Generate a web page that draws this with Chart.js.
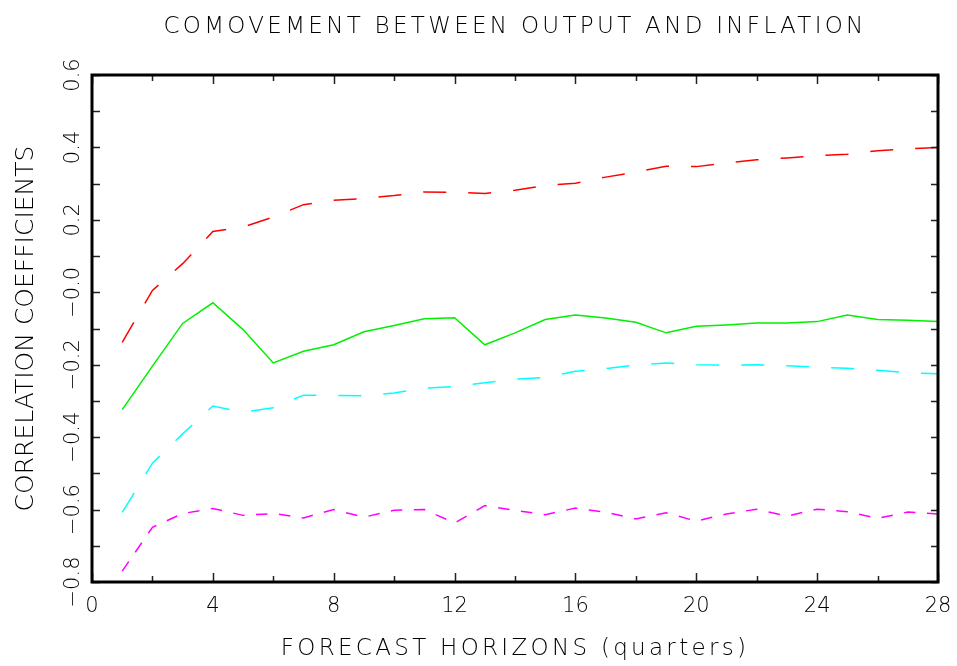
<!DOCTYPE html>
<html>
<head>
<meta charset="utf-8">
<script src="https://cdn.jsdelivr.net/npm/chart.js@4/dist/chart.umd.min.js"></script>
<style>
  html, body { margin: 0; padding: 0; background: #fff; }
  #wrap { width: 957px; height: 666px; }
</style>
</head>
<body>
<div id="wrap"><canvas id="chart" width="957" height="666"></canvas></div>
<script>
// forecast horizons (quarters)
var horizons = [1, 2, 3, 4, 5, 6, 7, 8, 9, 10, 11, 12, 13, 14,
                15, 16, 17, 18, 19, 20, 21, 22, 23, 24, 25, 26, 27, 28];

// point estimate (green, solid)
var corrMid = [-0.324, -0.204, -0.086, -0.029, -0.103, -0.195, -0.163, -0.145, -0.109, -0.092,
               -0.073, -0.070, -0.145, -0.112, -0.075, -0.063, -0.071, -0.083, -0.112, -0.094,
               -0.090, -0.085, -0.085, -0.081, -0.063, -0.075, -0.077, -0.081];

// upper band (red, long dash)
var corrUpper = [-0.138, 0.005, 0.079, 0.168, 0.180, 0.208, 0.242, 0.254, 0.259, 0.267,
                 0.277, 0.276, 0.273, 0.282, 0.295, 0.301, 0.318, 0.332, 0.348, 0.347,
                 0.357, 0.366, 0.371, 0.377, 0.381, 0.391, 0.396, 0.400];

// lower band (cyan, long dash)
var corrLower = [-0.608, -0.472, -0.391, -0.314, -0.331, -0.319, -0.284, -0.285, -0.286, -0.278,
                 -0.265, -0.260, -0.250, -0.240, -0.235, -0.218, -0.211, -0.201, -0.195, -0.200,
                 -0.201, -0.200, -0.203, -0.207, -0.210, -0.215, -0.222, -0.225];

// outer band (magenta, short dash)
var corrOuter = [-0.770, -0.649, -0.611, -0.597, -0.616, -0.611, -0.623, -0.600, -0.621, -0.602,
                 -0.600, -0.637, -0.589, -0.602, -0.614, -0.596, -0.607, -0.626, -0.609, -0.632,
                 -0.612, -0.599, -0.618, -0.599, -0.606, -0.624, -0.607, -0.612];

var titleText = 'COMOVEMENT BETWEEN OUTPUT AND INFLATION';
var xTitleText = 'FORECAST HORIZONS (quarters)';
var yTitleText = 'CORRELATION COEFFICIENTS';

var FONT = '"DejaVu Sans", "Liberation Sans", sans-serif';

function pts(values) {
    return horizons.map(function (h, i) { return {x: h, y: values[i]}; });
}

function line(label, values, color, dash) {
    return {
        label: label,
        data: pts(values),
        borderColor: color,
        borderWidth: 1.5,
        borderDash: dash,
        pointRadius: 0,
        tension: 0,
        fill: false
    };
}

// frame, inside tick marks and the titles
var framePlugin = {
    id: 'frame',
    afterDraw: function (chart) {
        var ctx = chart.ctx;
        var a = chart.chartArea;
        var xs = chart.scales.x, ys = chart.scales.y;

        ctx.save();
        ctx.strokeStyle = '#222';
        ctx.lineWidth = 1.5;
        ctx.beginPath();
        xs.ticks.forEach(function (t) {
            var px = Math.round(xs.getPixelForValue(t.value)) + 0.5;
            var len = (Math.round(t.value) % 4 === 0) ? 9 : 6;
            ctx.moveTo(px, a.bottom); ctx.lineTo(px, a.bottom - len);
            ctx.moveTo(px, a.top); ctx.lineTo(px, a.top + len);
        });
        ys.ticks.forEach(function (t) {
            var py = Math.round(ys.getPixelForValue(t.value)) + 0.5;
            ctx.moveTo(a.left, py); ctx.lineTo(a.left + 8, py);
            ctx.moveTo(a.right, py); ctx.lineTo(a.right - 7, py);
        });
        ctx.stroke();

        ctx.strokeStyle = '#000';
        ctx.lineWidth = 3;
        ctx.strokeRect(a.left, a.top, a.right - a.left, a.bottom - a.top);

        ctx.fillStyle = '#000';
        ctx.textAlign = 'center';
        ctx.textBaseline = 'alphabetic';
        ctx.font = '200 23px ' + FONT;
        ctx.letterSpacing = '3.3px';
        var cx = (a.left + a.right) / 2;
        ctx.fillText(titleText, cx, 33);
        ctx.fillText(xTitleText, cx, 655);

        ctx.letterSpacing = '0px';
        ctx.font = '200 25px ' + FONT;
        ctx.translate(33, (a.top + a.bottom) / 2);
        ctx.rotate(-Math.PI / 2);
        ctx.fillText(yTitleText, 0, 0);
        ctx.restore();
    }
};

var ctx = document.getElementById('chart').getContext('2d');

new Chart(ctx, {
    type: 'line',
    data: {
        datasets: [
            line('upper', corrUpper, '#ff0000', [23, 22]),
            line('estimate', corrMid, '#00f000', []),
            line('lower', corrLower, '#00ffff', [23, 22]),
            line('outer', corrOuter, '#ff00ff', [11.5, 11.5])
        ]
    },
    options: {
        responsive: false,
        animation: false,
        layout: {padding: {top: 75, right: 19, bottom: 0, left: 0}},
        plugins: {
            legend: {display: false},
            title: {display: false},
            tooltip: {enabled: false}
        },
        scales: {
            x: {
                type: 'linear',
                min: 0,
                max: 28,
                grid: {display: false, drawTicks: false},
                border: {display: false},
                ticks: {
                    stepSize: 2,
                    autoSkip: false,
                    maxRotation: 0,
                    padding: 12,
                    color: '#000',
                    font: {family: FONT, size: 21, weight: 200},
                    callback: function (v) { return (Math.round(v) % 4 === 0) ? String(v) : ''; }
                },
                afterFit: function (scale) {
                    scale.height = 84;
                    scale.paddingLeft = 0;
                    scale.paddingRight = 0;
                }
            },
            y: {
                min: -0.8,
                max: 0.6,
                grid: {display: false, drawTicks: false},
                border: {display: false},
                ticks: {
                    stepSize: 0.1,
                    autoSkip: false,
                    minRotation: 90,
                    maxRotation: 90,
                    crossAlign: 'center',
                    padding: -7,
                    color: '#000',
                    font: {family: FONT, size: 21, weight: 200},
                    callback: function (v) {
                        var k = Math.round(v * 10);
                        if (k % 2 !== 0) return '';
                        return (k <= 0 ? '\u2212' : '') + Math.abs(k / 10).toFixed(1);
                    }
                },
                afterFit: function (scale) {
                    scale.width = 92;
                    scale.paddingTop = 0;
                    scale.paddingBottom = 0;
                }
            }
        }
    },
    plugins: [framePlugin]
});
</script>
</body>
</html>
